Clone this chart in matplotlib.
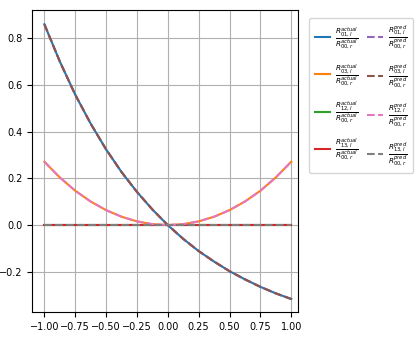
import matplotlib.pyplot as plt

# x samples and ratio curves
x = [-1.0, -0.875, -0.75, -0.625, -0.5, -0.375, -0.25, -0.125, 0.0,
     0.125, 0.25, 0.375, 0.5, 0.625, 0.75, 0.875, 1.0]
r_decay = [0.859, 0.700, 0.558, 0.434, 0.324, 0.227, 0.142, 0.067, 0.0,
           -0.059, -0.111, -0.156, -0.197, -0.232, -0.264, -0.292, -0.316]
r_bowl = [0.271, 0.204, 0.147, 0.101, 0.064, 0.036, 0.016, 0.004, 0.0,
          0.004, 0.016, 0.036, 0.064, 0.101, 0.147, 0.204, 0.271]
r_flat = [0.0] * len(x)

pairs = ['01', '03', '12', '13']
actual = {'01': r_decay, '03': r_bowl, '12': r_flat, '13': r_flat}
pred = {'01': r_decay, '03': r_decay, '12': r_bowl, '13': r_flat}

fig = plt.figure(figsize=(4.16, 3.46), dpi=100)
ax = fig.add_axes([0.077, 0.098, 0.64, 0.873])

for p in pairs:
    ax.plot(x, actual[p], '-',
            label=r'$\frac{R^{actual}_{%s,l}}{R^{actual}_{00,r}}$' % p)
for p in pairs:
    ax.plot(x, pred[p], '--',
            label=r'$\frac{R^{pred}_{%s,l}}{R^{pred}_{00,r}}$' % p)

ax.set_xlim(-1.1, 1.057)
ax.set_ylim(-0.372, 0.92)
ax.set_xticks([-1.0, -0.75, -0.5, -0.25, 0.0, 0.25, 0.5, 0.75, 1.0])
ax.set_yticks([-0.2, 0.0, 0.2, 0.4, 0.6, 0.8])
ax.tick_params(labelsize=7)
ax.grid(True)

ax.legend(loc='upper left', bbox_to_anchor=(1.02, 0.99), ncol=2,
          fontsize=7.5, handlelength=1.5, labelspacing=1.1, columnspacing=0.8,
          handletextpad=0.5, borderpad=0.55, borderaxespad=0.5)

plt.savefig('out.png', dpi=100)
